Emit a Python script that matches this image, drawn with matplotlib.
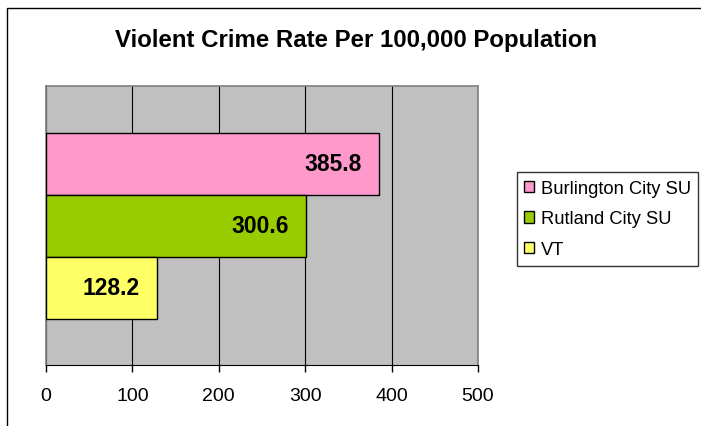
import matplotlib.pyplot as plt
from matplotlib.patches import Rectangle

series = ['Burlington City SU', 'Rutland City SU', 'VT']
rates = [385.8, 300.6, 128.2]
colors = ['#FF99CC', '#99CC00', '#FFFF66']
xticks = [0, 100, 200, 300, 400, 500]

plt.rcParams['font.family'] = ['Liberation Sans', 'DejaVu Sans']

fig = plt.figure(figsize=(7.01, 4.27), dpi=100)
ax = fig.add_axes([46 / 701, 61 / 427, 432 / 701, 279 / 427])
ax.set_facecolor('#C0C0C0')

# outer chart frame
fig.patches.append(Rectangle((7 / 701, -0.1), 1.2, 418 / 427 + 0.1,
                             transform=fig.transFigure, fill=False,
                             edgecolor='black', linewidth=1.0))

# one category, three series stacked top to bottom, gap width 150%
h = 1.0 / 4.5
for i, (name, v, c) in enumerate(zip(series, rates, colors)):
    y = 0.5 + h - i * h
    ax.barh(y, v, height=h, color=c, edgecolor='black', linewidth=1.0,
            label=name, zorder=3)
    ax.text(v - 20, y, f'{v:.1f}', ha='right', va='center',
            fontsize=16.5, fontweight='bold', zorder=4)

ax.set_xlim(0, 500)
ax.set_ylim(0, 1)
ax.set_xticks(xticks)
ax.set_xticklabels([str(t) for t in xticks], fontsize=14)
ax.set_yticks([])
ax.grid(axis='x', color='black', linewidth=0.8, zorder=1)
ax.tick_params(axis='x', length=5, width=1, pad=11)

for s in ['top', 'right', 'left']:
    ax.spines[s].set_color('#808080')
    ax.spines[s].set_linewidth(1.2)
ax.spines['bottom'].set_color('black')

fig.text(356 / 701, 1 - 41 / 427, 'Violent Crime Rate Per 100,000 Population',
         ha='center', va='center', fontsize=17.3, fontweight='bold')

leg = ax.legend(loc='center left', bbox_to_anchor=(517 / 701, 1 - 220 / 427),
                bbox_transform=fig.transFigure, fontsize=13.2,
                frameon=True, fancybox=False, edgecolor='black',
                handlelength=0.55, handleheight=0.55, handletextpad=0.35,
                borderpad=0.4, labelspacing=0.75, borderaxespad=0)
leg.get_frame().set_linewidth(1.0)

fig.savefig('out.png', dpi=100)
